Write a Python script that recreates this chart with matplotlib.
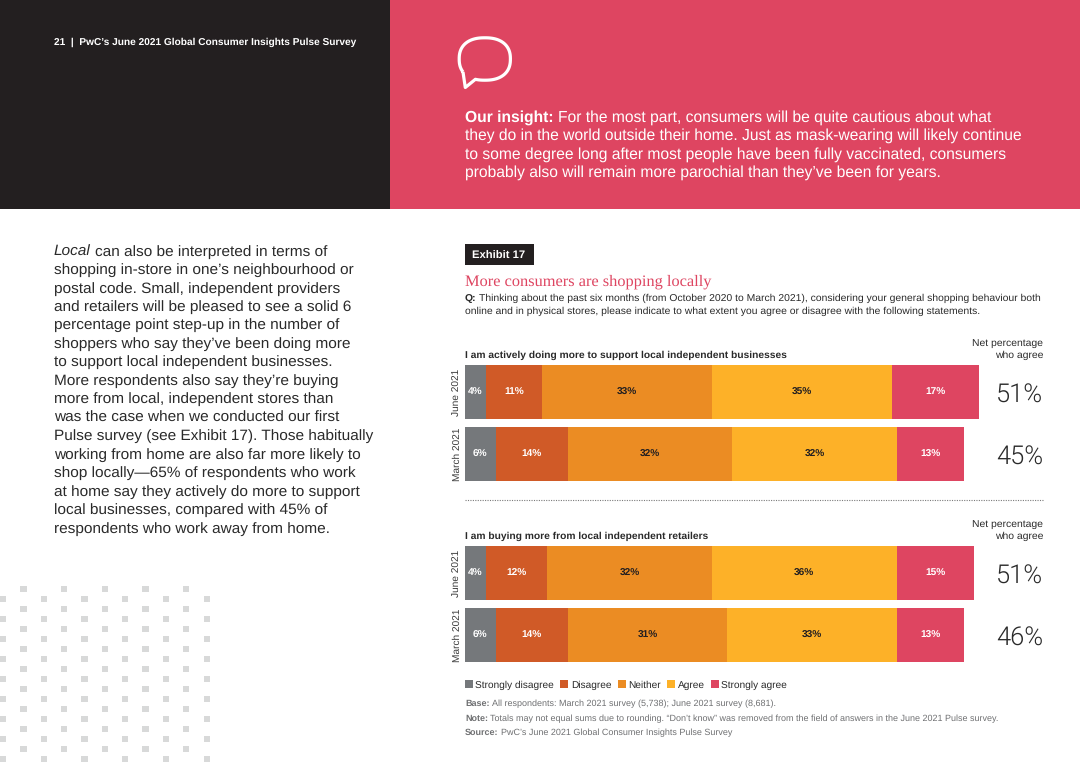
import numpy as np
import matplotlib
matplotlib.use("Agg")
import matplotlib.pyplot as plt
from matplotlib.patches import Rectangle, PathPatch
from matplotlib.path import Path

plt.rcParams["text.hinting"] = "no_hinting"
plt.rcParams["text.hinting_factor"] = 8

W, H = 1080, 763
SANS = "Liberation Sans"
DARK = "#231F20"
PINK = "#DE4561"

levels = ["Strongly disagree", "Disagree", "Neither", "Agree", "Strongly agree"]
level_colors = ["#75787B", "#D05A27", "#EB8C23", "#FDB128", "#DE4561"]
label_colors = ["white", "white", DARK, DARK, "white"]
periods = ["June 2021", "March 2021"]

support_june = [4, 11, 33, 35, 17]
support_march = [6, 14, 32, 32, 13]
support_net = ["51%", "45%"]
buying_june = [4, 12, 32, 36, 15]
buying_march = [6, 14, 31, 33, 13]
buying_net = ["51%", "46%"]

support_title = "I am actively doing more to support local independent businesses"
buying_title = "I am buying more from local independent retailers"

insight_lines = [
    "they do in the world outside their home. Just as mask-wearing will likely continue",
    "to some degree long after most people have been fully vaccinated, consumers",
    "probably also will remain more parochial than they\u2019ve been for years.",
]
body_lines = [
    "shopping in-store in one\u2019s neighbourhood or",
    "postal code. Small, independent providers",
    "and retailers will be pleased to see a solid 6",
    "percentage point step-up in the number of",
    "shoppers who say they\u2019ve been doing more",
    "to support local independent businesses.",
    "More respondents also say they\u2019re buying",
    "more from local, independent stores than",
    "was the case when we conducted our first",
    "Pulse survey (see Exhibit 17). Those habitually",
    "working from home are also far more likely to",
    "shop locally\u201465% of respondents who work",
    "at home say they actively do more to support",
    "local businesses, compared with 45% of",
    "respondents who work away from home.",
]

fig = plt.figure(figsize=(W / 100, H / 100), dpi=100, facecolor="white")
bg = fig.add_axes([0, 0, 1, 1])
bg.set_xlim(0, W)
bg.set_ylim(H, 0)
bg.axis("off")
renderer = fig.canvas.get_renderer()


def runs(x, y, parts, size, color, **kw):
    """Draw text pieces of different weight/style on one baseline."""
    for s, weight, style in parts:
        t = bg.text(x, y, s, fontsize=size, color=color, family=SANS, weight=weight,
                    style=style, va="center_baseline", ha="left", **kw)
        e = t.get_window_extent(renderer)
        x += e.width + size * 0.36


# page furniture
bg.add_patch(Rectangle((0, 0), 390, 209, color=DARK, lw=0))
bg.add_patch(Rectangle((390, 0), 690, 209, color=PINK, lw=0))
runs(54, 41, [("21  |  PwC\u2019s June 2021 Global Consumer Insights Pulse Survey", "bold", "normal")], 7.28, "white")

# speech bubble
a = np.radians(np.linspace(214, -108, 90))
n = 2.35
cx, cy, rx, ry = 484.8, 59, 25.6, 21.2
px = cx + rx * np.sign(np.cos(a)) * np.abs(np.cos(a)) ** (2 / n)
py = cy - ry * np.sign(np.sin(a)) * np.abs(np.sin(a)) ** (2 / n)
verts = list(zip(px, py)) + [(465.3, 87.5)]
verts = verts + [verts[0]]
codes = [Path.MOVETO] + [Path.LINETO] * (len(verts) - 1)
bg.add_patch(PathPatch(Path(verts, codes), fill=False, ec="white", lw=2.3, joinstyle="round"))

# insight text
runs(465, 115.5, [("Our insight:", "bold", "normal"),
                  ("For the most part, consumers will be quite cautious about what", "normal", "normal")], 11.28, "white")
for y, s in zip([134, 152.5, 171], insight_lines):
    runs(465, y, [(s, "normal", "normal")], 11.28, "white")

# body text
runs(54, 250, [("Local", "normal", "italic"), ("can also be interpreted in terms of", "normal", "normal")], 11.07, "#2A2A2A")
for i, s in enumerate(body_lines):
    runs(54, 268.5 + i * 18.47, [(s, "normal", "normal")], 11.07, "#2A2A2A")

# dot pattern
for xs, y0 in (([23.3, 64, 104.8, 145.5, 186.2], 589.3), ([3, 43.8, 84.5, 125.2, 166, 206.8], 599.3)):
    for y in np.arange(y0, H + 4, 20):
        for x in xs:
            bg.add_patch(Rectangle((x - 3.2, y - 3.2), 6.4, 6.4, color="#D8D9D9", lw=0))

# exhibit heading
bg.add_patch(Rectangle((465, 244), 69, 21, color=DARK, lw=0))
runs(472.5, 254.8, [("Exhibit 17", "bold", "normal")], 8.1, "white")
bg.text(465, 280, "More consumers are shopping locally", fontsize=11.8, color=PINK,
        family="Liberation Serif", va="center_baseline", ha="left")
runs(465, 297, [("Q:", "bold", "normal"),
                ("Thinking about the past six months (from October 2020 to March 2021), considering your general shopping behaviour both", "normal", "normal")],
     7.48, "#2A2A2A")
runs(465, 310, [("online and in physical stores, please indicate to what extent you agree or disagree with the following statements.", "normal", "normal")],
     7.48, "#2A2A2A")


def px_axes(x0, x1, y0, y1):
    return fig.add_axes([x0 / W, 1 - y1 / H, (x1 - x0) / W, (y1 - y0) / H])


def panel(top, title, june, march, net):
    ax = px_axes(465, 979, top, top + 116)
    ax.patch.set_alpha(0)
    ax.set_xlim(0, 100)
    ax.set_ylim(1.435, -0.435)
    handles = []
    for row, vals in enumerate([june, march]):
        left = 0
        for j, v in enumerate(vals):
            b = ax.barh(row, v, left=left, height=0.871, color=level_colors[j], lw=0)
            if row == 0:
                handles.append(b[0])
            ax.text(left + v / 2, row, f"{v}%", ha="center", va="center",
                    fontsize=7.3, weight="bold", family=SANS, color=label_colors[j])
            left += v
        bg.text(1043.5, top + 28 + row * 62, net[row], ha="right", va="center_baseline",
                fontsize=18.4, color="#2A2A2A", family="Roboto", weight=300)
    ax.set_yticks([0, 1], periods, rotation=90, va="center", fontsize=7.3,
                  family=SANS, color="#3A3A3A")
    ax.tick_params(axis="y", length=0, pad=2)
    ax.xaxis.set_visible(False)
    for sp in ax.spines.values():
        sp.set_visible(False)
    runs(465, top - 11, [(title, "bold", "normal")], 7.4, "#2A2A2A")
    bg.text(1043, top - 23, "Net percentage", ha="right", va="center_baseline", fontsize=7.5,
            color="#2A2A2A", family=SANS)
    bg.text(1043, top - 11, "who agree", ha="right", va="center_baseline", fontsize=7.5,
            color="#2A2A2A", family=SANS)
    return handles


panel(365, support_title, support_june, support_march, support_net)
handles = panel(546, buying_title, buying_june, buying_march, buying_net)

bg.plot([465, 1043], [499.5, 499.5], color="#7A7A7A", lw=0.8, ls=(0, (1, 1.2)))

fig.legend(handles, levels, loc="center left", bbox_to_anchor=(465 / W, 1 - 685 / H),
           ncol=5, frameon=False, borderpad=0, borderaxespad=0, handlelength=0.78,
           handleheight=0.78, handletextpad=0.25, columnspacing=0.62,
           prop={"family": SANS, "size": 7.3}, labelcolor="#2A2A2A")

GREY = "#6F7072"
runs(465, 703, [("Base:", "bold", "normal"), ("All respondents: March 2021 survey (5,738); June 2021 survey (8,681).", "normal", "normal")], 6.45, GREY)
runs(465, 717.5, [("Note:", "bold", "normal"), ("Totals may not equal sums due to rounding. \u201cDon\u2019t know\u201d was removed from the field of answers in the June 2021 Pulse survey.", "normal", "normal")], 6.45, GREY)
runs(465, 732, [("Source:", "bold", "normal"), ("PwC\u2019s June 2021 Global Consumer Insights Pulse Survey", "normal", "normal")], 6.45, GREY)

fig.savefig("out.png", dpi=100, facecolor="white")
